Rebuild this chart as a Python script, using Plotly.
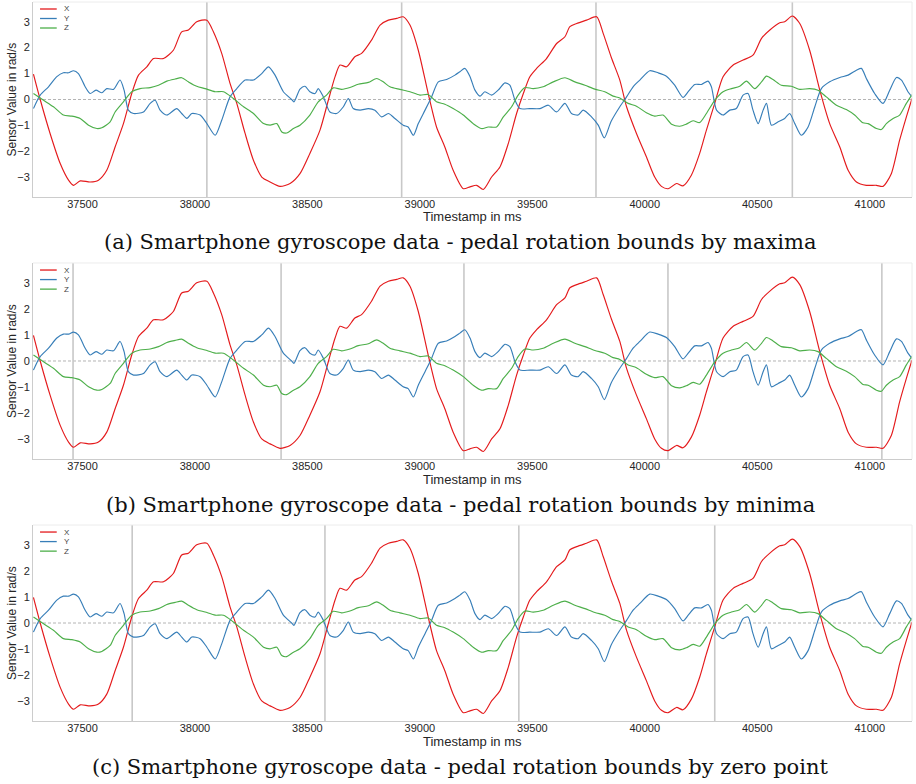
import plotly.graph_objects as go

# ---------------- data ----------------
ts_x = [37282, 37312, 37356, 37401, 37438, 37460, 37490, 37534, 37571, 37608,
        37645, 37682, 37719, 37749, 37786, 37816, 37860, 37904, 37941, 37971,
        38008, 38053, 38082, 38119, 38156, 38186, 38223, 38260, 38297, 38334,
        38378, 38423, 38467, 38511, 38556, 38593, 38623, 38645, 38674, 38711,
        38741, 38785, 38823, 38860, 38897, 38926, 38956, 38993, 39037, 39074,
        39111, 39148, 39193, 39223, 39252, 39282, 39319, 39356, 39393, 39430,
        39460, 39489, 39519, 39563, 39608, 39645, 39667, 39697, 39741, 39786,
        39815, 39852, 39889, 39919, 39963, 40007, 40044, 40074, 40104, 40141,
        40170, 40207, 40244, 40274, 40311, 40348, 40393, 40437, 40481, 40519,
        40556, 40600, 40622, 40656, 40689, 40733, 40778, 40822, 40867, 40904,
        40941, 40985, 41030, 41059, 41096, 41133, 41163, 41188]
gyro_x = [0.98, 0.0, -1.31, -2.47, -3.11, -3.31, -3.14, -3.18, -3.11, -2.73,
          -1.83, -0.93, 0.23, 0.94, 1.26, 1.58, 1.58, 1.90, 2.61, 2.68,
          3.00, 3.06, 2.61, 1.78, 0.62, -0.15, -1.31, -2.34, -2.99, -3.18,
          -3.35, -3.24, -2.86, -2.08, -1.18, -0.03, 0.88, 1.33, 1.26, 1.65,
          1.78, 2.29, 2.87, 3.06, 3.13, 3.19, 2.87, 1.90, 0.23, -1.06,
          -1.83, -2.73, -3.44, -3.37, -3.31, -3.47, -2.99, -2.60, -1.70, -0.54,
          0.23, 0.88, 1.20, 1.58, 2.16, 2.42, 2.81, 2.93, 3.06, 3.19,
          2.55, 1.60, 0.75, -0.28, -1.31, -2.21, -2.99, -3.35, -3.44, -3.24,
          -3.33, -2.92, -2.08, -1.18, -0.15, 0.88, 1.33, 1.52, 1.71, 2.36,
          2.68, 2.96, 3.00, 3.22, 2.93, 1.90, 0.36, -0.93, -1.83, -2.73,
          -3.18, -3.31, -3.31, -3.35, -2.86, -1.57, -0.67, 0.04]

ts_y = [37282, 37312, 37349, 37386, 37415, 37438, 37460, 37482, 37512, 37534,
        37560, 37586, 37608, 37638, 37667, 37685, 37704, 37727, 37771, 37801,
        37823, 37845, 37875, 37919, 37941, 37964, 37986, 38023, 38053, 38090,
        38119, 38156, 38186, 38223, 38260, 38297, 38327, 38356, 38393, 38430,
        38440, 38467, 38489, 38511, 38534, 38548, 38571, 38600, 38630, 38660,
        38682, 38704, 38734, 38771, 38800, 38830, 38860, 38889, 38926, 38948,
        38971, 38993, 39023, 39052, 39082, 39119, 39156, 39178, 39200, 39223,
        39245, 39267, 39289, 39319, 39348, 39378, 39400, 39423, 39445, 39489,
        39534, 39571, 39608, 39645, 39674, 39704, 39726, 39763, 39793, 39820,
        39850, 39889, 39919, 39948, 39978, 40022, 40059, 40096, 40133, 40170,
        40193, 40222, 40252, 40281, 40296, 40319, 40348, 40378, 40407, 40437,
        40459, 40481, 40504, 40526, 40541, 40563, 40593, 40622, 40644, 40667,
        40696, 40726, 40756, 40785, 40822, 40867, 40904, 40941, 40963, 40985,
        41022, 41059, 41089, 41119, 41141, 41170, 41188]
gyro_y = [-0.35, 0.17, 0.49, 0.88, 1.03, 1.03, 1.11, 1.00, 0.49, 0.23,
          0.36, 0.26, 0.42, 0.39, 0.75, 0.36, -0.41, -0.54, -0.48, -0.15,
          -0.03, -0.41, -0.60, -0.35, -0.54, -0.73, -0.54, -0.60, -0.93, -1.38,
          -0.80, 0.10, 0.42, 0.75, 0.75, 1.00, 1.26, 0.94, 0.30, 0.0,
          -0.09, 0.40, 0.51, 0.30, 0.23, 0.42, 0.10, -0.48, -0.54, -0.28,
          0.04, -0.35, -0.41, -0.35, -0.41, -0.67, -0.54, -0.73, -0.99, -1.06,
          -1.38, -0.93, -0.41, 0.10, 0.68, 0.77, 0.94, 1.07, 1.20, 0.88,
          0.36, 0.13, 0.30, 0.17, 0.36, 0.64, 0.55, -0.03, -0.35, -0.35,
          -0.35, -0.22, -0.48, -0.15, -0.54, -0.60, -0.41, -0.67, -0.99, -1.48,
          -0.85, -0.28, 0.10, 0.49, 0.75, 1.11, 1.03, 0.90, 0.55, 0.08,
          0.30, 0.58, 0.58, 0.71, 0.49, -0.41, -0.60, -0.41, -0.35, 0.17,
          0.23, -0.41, -0.93, -0.41, -0.15, -0.99, -0.86, -0.73, -0.54, -0.93,
          -1.38, -1.06, -0.28, 0.42, 0.68, 0.85, 0.94, 1.13, 1.20, 0.81,
          0.23, -0.15, 0.36, 0.85, 0.75, 0.30, 0.10]

ts_z = [37282, 37327, 37371, 37415, 37453, 37490, 37527, 37564, 37586, 37623,
        37645, 37682, 37719, 37756, 37801, 37838, 37875, 37912, 37941, 37971,
        38008, 38045, 38090, 38127, 38171, 38216, 38260, 38305, 38334, 38364,
        38386, 38408, 38438, 38467, 38511, 38548, 38585, 38615, 38652, 38689,
        38726, 38771, 38808, 38837, 38867, 38911, 38956, 39000, 39037, 39074,
        39111, 39148, 39193, 39237, 39274, 39304, 39341, 39371, 39408, 39437,
        39467, 39504, 39548, 39593, 39645, 39689, 39734, 39778, 39822, 39859,
        39889, 39926, 39963, 40007, 40044, 40081, 40119, 40156, 40185, 40215,
        40244, 40274, 40311, 40348, 40385, 40422, 40452, 40489, 40519, 40541,
        40570, 40607, 40652, 40689, 40733, 40770, 40807, 40852, 40896, 40933,
        40970, 40993, 41030, 41052, 41074, 41104, 41133, 41163, 41188]
gyro_z = [0.23, -0.03, -0.28, -0.60, -0.64, -0.73, -0.99, -1.12, -1.09, -0.86,
          -0.48, -0.09, 0.30, 0.42, 0.46, 0.55, 0.71, 0.79, 0.84, 0.68,
          0.51, 0.42, 0.30, 0.30, 0.04, -0.28, -0.54, -0.93, -0.99, -0.93,
          -1.25, -1.29, -1.12, -0.99, -0.60, -0.09, 0.17, 0.45, 0.39, 0.46,
          0.59, 0.66, 0.81, 0.68, 0.49, 0.39, 0.30, 0.17, 0.19, -0.09,
          -0.18, -0.35, -0.60, -0.93, -1.12, -1.06, -1.06, -0.67, -0.28, 0.17,
          0.46, 0.42, 0.49, 0.68, 0.84, 0.68, 0.55, 0.40, 0.30, 0.13,
          0.06, -0.15, -0.26, -0.51, -0.64, -0.60, -0.95, -1.03, -0.95, -0.82,
          -0.89, -0.54, -0.03, 0.30, 0.42, 0.51, 0.71, 0.42, 0.68, 0.90,
          0.77, 0.55, 0.51, 0.39, 0.42, 0.36, 0.10, -0.22, -0.39, -0.60,
          -0.90, -0.93, -1.12, -1.16, -0.93, -0.73, -0.60, -0.15, 0.19]

assert len(ts_x) == len(gyro_x)
assert len(ts_y) == len(gyro_y)
assert len(ts_z) == len(gyro_z)

series_names = ["X", "Y", "Z"]
series_colors = ["#e41a1c", "#377eb8", "#4daf4a"]

bounds_maxima = [38053, 38919, 39783, 40656]
bounds_minima = [37458, 38383, 39196, 40103, 41054]
bounds_zero = [37721, 38578, 39440, 40311]

captions = [
    "(a) Smartphone gyroscope data - pedal rotation bounds by maxima",
    "(b) Smartphone gyroscope data - pedal rotation bounds by minima",
    "(c) Smartphone gyroscope data - pedal rotation bounds by zero point",
]

x_ticks = [37500, 38000, 38500, 39000, 39500, 40000, 40500, 41000]
y_ticks = [-3, -2, -1, 0, 1, 2, 3]
x_range = [37280, 41188]
y_range = [-3.76, 3.76]

# ---------------- layout geometry ----------------
W, H = 916, 784
ML, MR, MT, MB = 33, 4, 2, 63
domains = [[0.7288, 1.0], [0.3644, 0.6370], [0.0, 0.2726]]
caption_y = [0.6662, 0.3004, -0.064]

fig = go.Figure()
series = [(ts_x, gyro_x), (ts_y, gyro_y), (ts_z, gyro_z)]
bounds = [bounds_maxima, bounds_minima, bounds_zero]

TICK_FONT = dict(family="Liberation Sans, Arial, sans-serif", size=11, color="#262626")
shapes = []
annotations = []

for p in range(3):
    sfx = "" if p == 0 else str(p + 1)
    xa, ya = "x" + sfx, "y" + sfx
    for (ts, vals), name, col in zip(series, series_names, series_colors):
        fig.add_trace(go.Scatter(
            x=ts, y=vals, mode="lines", name=name, xaxis=xa, yaxis=ya,
            line=dict(color=col, width=1.15, shape="spline", smoothing=0.7),
            showlegend=False, hoverinfo="skip"))
    # zero line
    shapes.append(dict(type="line", xref=xa + " domain", yref=ya, x0=0, x1=1,
                       y0=0, y1=0, line=dict(color="#b4b4b4", width=1, dash="3px,2px"),
                       layer="below"))
    # pedal rotation bounds
    for b in bounds[p]:
        shapes.append(dict(type="line", xref=xa, yref=ya + " domain", x0=b, x1=b,
                           y0=0, y1=1, line=dict(color="#c8c8c8", width=1.6),
                           layer="below"))
    # manual compact legend
    for k, (name, col) in enumerate(zip(series_names, series_colors)):
        yy = 1 - (7 + 9.5 * k) / 195.0
        shapes.append(dict(type="line", xref=xa + " domain", yref=ya + " domain",
                           x0=0.008, x1=0.027, y0=yy, y1=yy,
                           line=dict(color=col, width=1.3)))
        annotations.append(dict(text=name, xref=xa + " domain", yref=ya + " domain",
                                x=0.033, y=yy, xanchor="left", yanchor="middle",
                                showarrow=False,
                                font=dict(family="Liberation Sans, Arial", size=8, color="#444")))
    # axis titles
    annotations.append(dict(text="Timestamp in ms", xref=xa + " domain", yref=ya + " domain",
                            x=0.5, y=-20.0 / 195, xanchor="center", yanchor="middle",
                            showarrow=False,
                            font=dict(family="Liberation Sans, Arial", size=13, color="#262626")))
    annotations.append(dict(text="Sensor Value in rad/s", xref=xa + " domain", yref=ya + " domain",
                            x=-21.0 / 879, y=0.5, xanchor="center", yanchor="middle",
                            textangle=-90, showarrow=False,
                            font=dict(family="Liberation Sans, Arial", size=12, color="#262626")))
    # caption
    annotations.append(dict(text=captions[p], xref="paper", yref="paper",
                            x=(460 - ML) / 879.0, y=caption_y[p], xanchor="center",
                            yanchor="middle", showarrow=False,
                            font=dict(family="DejaVu Serif, serif", size=21, color="#111")))

    fig.layout["xaxis" + sfx] = dict(
        domain=[0, 1], range=x_range, anchor=ya, tickmode="array", tickvals=x_ticks,
        tickformat="d", showgrid=False, zeroline=False, ticks="",
        ticklabelstandoff=-3,
        showline=True, linecolor="#cccccc", linewidth=1, mirror=False,
        tickfont=TICK_FONT)
    fig.layout["yaxis" + sfx] = dict(
        domain=domains[p], range=y_range, anchor=xa, tickmode="array", tickvals=y_ticks,
        showgrid=False, zeroline=False, ticks="",
        showline=True, linecolor="#cccccc", linewidth=1, mirror=False,
        tickfont=TICK_FONT)
    # faint top / right frame
    shapes.append(dict(type="line", xref=xa + " domain", yref=ya + " domain",
                       x0=0, x1=1, y0=1, y1=1, line=dict(color="#ececec", width=1)))
    shapes.append(dict(type="line", xref=xa + " domain", yref=ya + " domain",
                       x0=1, x1=1, y0=0, y1=1, line=dict(color="#ececec", width=1)))

fig.update_layout(
    width=W, height=H, margin=dict(l=ML, r=MR, t=MT, b=MB),
    paper_bgcolor="white", plot_bgcolor="white",
    shapes=shapes, annotations=annotations, showlegend=False)

fig.write_html("out.html", config={"displayModeBar": False},
               post_script="document.body.style.margin='0';"
                           "document.body.style.overflow='hidden';")
